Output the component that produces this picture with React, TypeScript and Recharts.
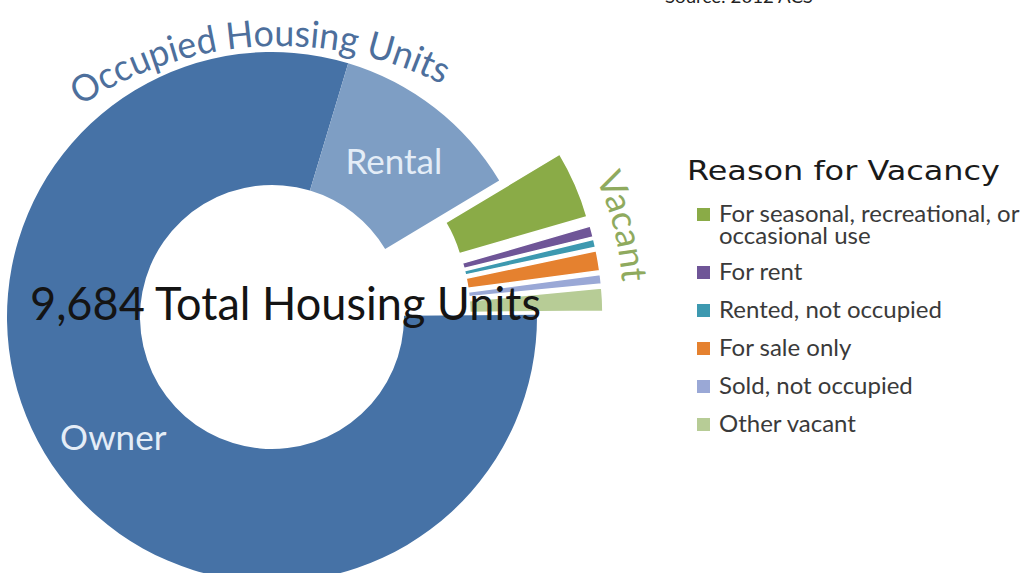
import { PieChart, Pie, Cell, Legend, Customized } from "recharts";

// housing units by tenure / vacancy reason
const occupiedLabels = ["Owner", "Rental"];
const occupiedValues = [7726, 1138];
const occupiedColors = ["#4672a6", "#7e9ec4"];

const vacancyLabels = [
  "For seasonal, recreational, or|occasional use",
  "For rent",
  "Rented, not occupied",
  "For sale only",
  "Sold, not occupied",
  "Other vacant",
];
const vacancyValues = [398, 65, 48, 118, 56, 135];
const vacancyColors = ["#8aab47", "#6f5597", "#3d99b0", "#e5812f", "#9aa8d6", "#b7cc96"];

const W = 1036;
const H = 573;
const CX = 272;
const CY = 317;
const INNER = 132;
const OUTER = 265;
const EXPLODE = 66;
const START = 0.5;
const RAD = Math.PI / 180;

const slices = [
  ...occupiedLabels.map((name, i) => ({ name, value: occupiedValues[i], color: occupiedColors[i], group: "occupied" })),
  ...vacancyLabels.map((name, i) => ({ name, value: vacancyValues[i], color: vacancyColors[i], group: "vacant" })),
];
const total = slices.reduce((s, d) => s + d.value, 0);

let acc = 0;
const midAngles = slices.map((d) => {
  const m = START - ((acc + d.value / 2) / total) * 360;
  acc += d.value;
  return m;
});
const vacantBefore = occupiedValues.reduce((s, v) => s + v, 0);
const vacantSum = vacancyValues.reduce((s, v) => s + v, 0);
const vacantMid = START - ((vacantBefore + vacantSum / 2) / total) * 360;

// angles here are clockwise from 12 o'clock
function arcPath(cx: number, cy: number, r: number, a0: number, a1: number) {
  const p = (a: number) => [cx + r * Math.sin(a * RAD), cy - r * Math.cos(a * RAD)];
  const [x0, y0] = p(a0);
  const [x1, y1] = p(a1);
  return `M ${x0} ${y0} A ${r} ${r} 0 0 1 ${x1} ${y1}`;
}

const renderInside = (props: any) => {
  const { cx, cy, midAngle, innerRadius, outerRadius, index } = props;
  if (slices[index].group !== "occupied") return null;
  const r = (innerRadius + outerRadius) / 2;
  const x = cx + r * Math.cos(-midAngle * RAD);
  const y = cy + r * Math.sin(-midAngle * RAD);
  return (
    <text x={x} y={y} fill="#e4edf7" fontFamily="Lato" fontSize={35} textAnchor="middle" dominantBaseline="central">
      {slices[index].name}
    </text>
  );
};

function Titles() {
  const vcx = CX + EXPLODE * Math.cos(vacantMid * RAD);
  const vcy = CY - EXPLODE * Math.sin(vacantMid * RAD);
  return (
    <g>
      <defs>
        <path id="occArc" d={arcPath(280, 408, 362, -33.5, 60)} />
        <path id="vacArc" d={arcPath(vcx, vcy, 287, 65, 120)} />
      </defs>
      <text fontFamily="Lato" fontSize={37} fill="#4d6f9c">
        <textPath href="#occArc" textLength={380} lengthAdjust="spacingAndGlyphs">
          Occupied Housing Units
        </textPath>
      </text>
      <text fontFamily="Lato" fontSize={36} fill="#8faa5e">
        <textPath href="#vacArc" textLength={108} lengthAdjust="spacingAndGlyphs">
          Vacant
        </textPath>
      </text>
      <text x={665} y={3} fontFamily="Lato" fontSize={17} fill="#222" textLength={148} lengthAdjust="spacingAndGlyphs">
        Source: 2012 ACS
      </text>
    </g>
  );
}

const renderLegend = () => (
  <svg width={356} height={300}>
    <text x={7} y={30} fontFamily="DejaVu Sans" fontSize={27} fill="#1a1a1a" textLength={313} lengthAdjust="spacingAndGlyphs">
      Reason for Vacancy
    </text>
    {vacancyLabels.map((label, i) => {
      const base = 72 + i * 38 + (i > 0 ? 20 : 0);
      const lines = label.split("|");
      return (
        <g key={label}>
          <rect x={17} y={base - 14} width={13} height={13} fill={vacancyColors[i]} />
          {lines.map((ln, j) => (
            <text key={j} x={39} y={base + j * 22} fontFamily="Lato" fontSize={24} fill="#3a3a3a">
              {ln}
            </text>
          ))}
        </g>
      );
    })}
  </svg>
);

export default function App() {
  return (
    <div style={{ position: "absolute", left: 0, top: 0, width: W, height: H, background: "#fff" }}>
      <PieChart width={W} height={H} margin={{ top: 0, right: 0, bottom: 0, left: 0 }}>
        <Pie
          data={slices}
          dataKey="value"
          nameKey="name"
          cx={CX}
          cy={CY}
          innerRadius={INNER}
          outerRadius={OUTER}
          startAngle={START}
          endAngle={START - 360}
          label={renderInside}
          labelLine={false}
          isAnimationActive={false}
        >
          {slices.map((d, i) => (
            <Cell key={i} fill={d.group === "occupied" ? d.color : "none"} stroke="none" />
          ))}
        </Pie>
        {slices.map((d, i) =>
          d.group !== "vacant" ? null : (
            <Pie
              key={d.name}
              data={slices}
              dataKey="value"
              nameKey="name"
              cx={CX + EXPLODE * Math.cos(midAngles[i] * RAD)}
              cy={CY - EXPLODE * Math.sin(midAngles[i] * RAD)}
              innerRadius={INNER}
              outerRadius={OUTER}
              startAngle={START}
              endAngle={START - 360}
              isAnimationActive={false}
            >
              {slices.map((e, j) => (
                <Cell
                  key={j}
                  fill={j === i ? e.color : "none"}
                  stroke={j === i ? "#ffffff" : "none"}
                  strokeWidth={1.5}
                />
              ))}
            </Pie>
          )
        )}
        <Customized component={Titles} />
        <Legend
          layout="vertical"
          align="right"
          verticalAlign="top"
          width={356}
          height={300}
          content={renderLegend}
          wrapperStyle={{ left: 680, top: 150 }}
        />
      </PieChart>
      {/* center total sits above every slice */}
      <svg
        width={W}
        height={H}
        style={{ position: "absolute", left: 0, top: 0, pointerEvents: "none" }}
      >
        <text x={30} y={320} fontFamily="Lato" fontSize={46} fill="#141414" textLength={511} lengthAdjust="spacingAndGlyphs">
          {total.toLocaleString("en-US")} Total Housing Units
        </text>
      </svg>
    </div>
  );
}
